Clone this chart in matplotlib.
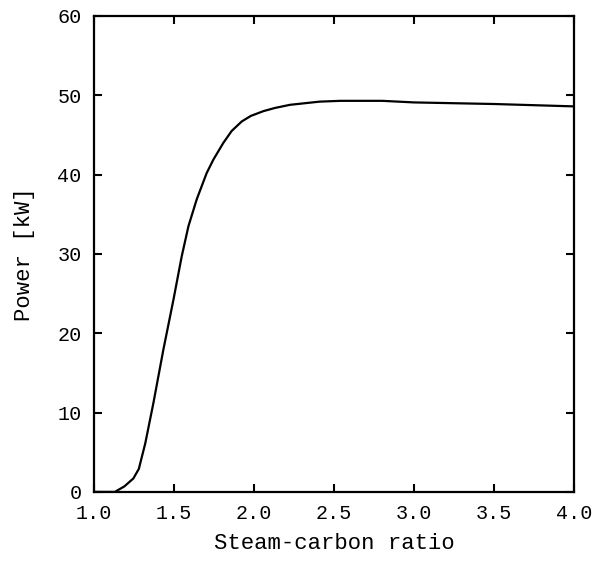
import matplotlib
matplotlib.use("Agg")
import matplotlib.pyplot as plt

# Punkty
ratio = [1.0, 1.13, 1.19, 1.246, 1.28, 1.32, 1.371, 1.433, 1.496, 1.548, 1.59,
         1.642, 1.704, 1.746, 1.808, 1.86, 1.923, 1.98, 2.058, 2.13, 2.225,
         2.41, 2.54, 2.8, 3.0, 3.5, 4.0]
power = [0, 0, 0.7, 1.7, 2.9, 6.1, 11.2, 17.9, 24.2, 29.7, 33.5,
         36.9, 40.2, 41.9, 44.0, 45.5, 46.7, 47.4, 48.0, 48.4, 48.8,
         49.2, 49.3, 49.3, 49.1, 48.9, 48.6]

xticks = [1.0, 1.5, 2.0, 2.5, 3.0, 3.5, 4.0]
yticks = [0, 10, 20, 30, 40, 50, 60]

plt.rcParams['font.family'] = ['Liberation Mono', 'DejaVu Sans Mono']

fig = plt.figure(figsize=(5.95, 5.70), dpi=100)
ax = fig.add_axes([0.158, 0.137, 0.807, 0.835])

ax.plot(ratio, power, color="black", lw=1.6)

ax.set_xlim(1.0, 4.0)
ax.set_ylim(0, 60)
ax.set_xticks(xticks)
ax.set_yticks(yticks)
ax.set_xticklabels(["%.1f" % t for t in xticks])
ax.tick_params(direction="in", top=True, right=True, length=6, width=1.5,
               labelsize=14.5, pad=9)
for s in ax.spines.values():
    s.set_linewidth(1.6)

ax.set_xlabel("Steam-carbon ratio", fontsize=16, labelpad=7)
ax.set_ylabel("Power [kW]", fontsize=16, labelpad=16)

fig.savefig("out.png", dpi=100)
